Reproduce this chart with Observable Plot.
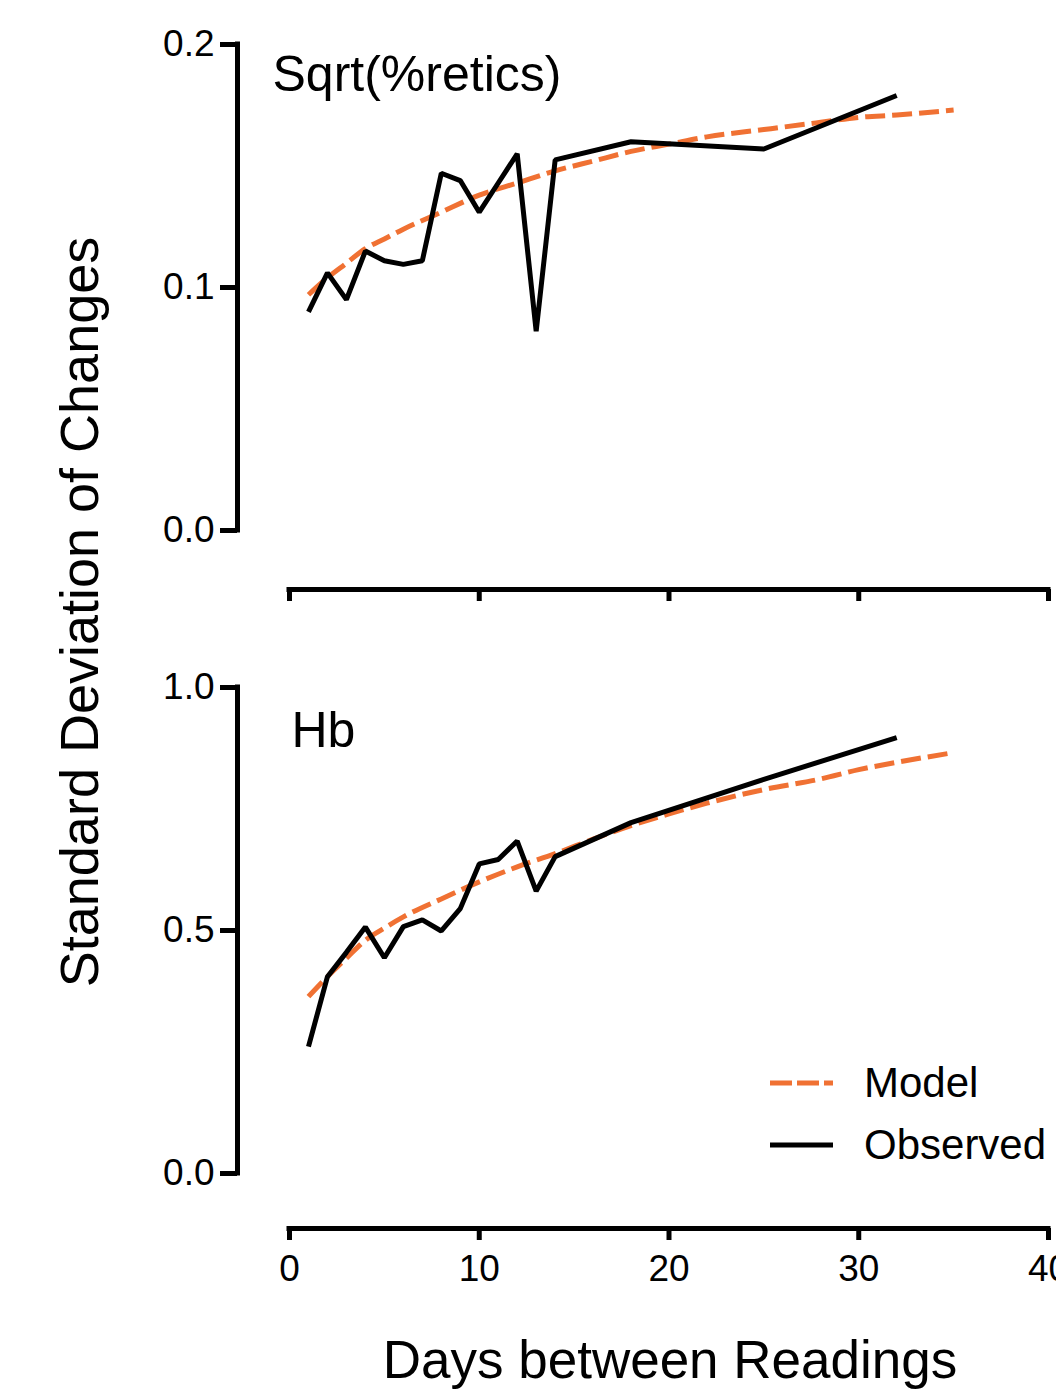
<!DOCTYPE html>
<html>
<head>
<meta charset="utf-8">
<script src="https://cdn.jsdelivr.net/npm/d3@7"></script>
<script src="https://cdn.jsdelivr.net/npm/@observablehq/plot@0.6"></script>
<style>
  html, body { margin: 0; padding: 0; background: #fff; overflow: hidden; }
  #wrap { position: relative; width: 1056px; height: 1389px; font-family: "Liberation Sans", Arial, Helvetica, sans-serif; color: #000; }
  #top, #bottom { position: absolute; left: 0; }
  #top { top: 0; }
  #bottom { top: 640px; }
  #ytitle { position: absolute; left: 79px; top: 612px; transform: translate(-50%, -50%) rotate(-90deg); font-size: 54px; line-height: 1; white-space: nowrap; }
  #xtitle { position: absolute; left: 670px; top: 1333px; transform: translateX(-50%); font-size: 53px; line-height: 1; white-space: nowrap; }
  .legtext { position: absolute; left: 864px; font-size: 42px; line-height: 1; white-space: nowrap; }
  #legsvg { position: absolute; left: 760px; top: 1060px; }
</style>
</head>
<body>
<div id="wrap">
  <div id="top"></div>
  <div id="bottom"></div>
  <div id="ytitle"></div>
  <div id="xtitle"></div>
  <svg id="legsvg" width="90" height="110"></svg>
  <div class="legtext" id="leg1" style="top:1062px"></div>
  <div class="legtext" id="leg2" style="top:1124px"></div>
</div>
<script>
// ---- data ----
const xDomain = [0, 40];
const xTicks = [0, 10, 20, 30, 40];

const observedDays = [1, 2, 3, 4, 5, 6, 7, 8, 9, 10, 11, 12, 13, 14, 18, 25, 32];
const modelDays = [1, 2, 3, 4, 5, 6, 8, 10, 12, 14, 16, 18, 20, 22, 25, 28, 30, 32, 35];

const reticsObserved = [0.090, 0.106, 0.095, 0.115, 0.111, 0.1095, 0.111, 0.147, 0.144, 0.131, 0.143, 0.155, 0.082, 0.1525, 0.160, 0.157, 0.179];
const reticsModel = [0.097, 0.104, 0.110, 0.116, 0.120, 0.124, 0.131, 0.138, 0.143, 0.148, 0.152, 0.156, 0.159, 0.162, 0.165, 0.168, 0.170, 0.171, 0.173];

const hbObserved = [0.261, 0.405, 0.455, 0.507, 0.444, 0.508, 0.522, 0.499, 0.545, 0.637, 0.646, 0.684, 0.581, 0.652, 0.722, 0.811, 0.897];
const hbModel = [0.364, 0.405, 0.443, 0.480, 0.505, 0.528, 0.565, 0.600, 0.631, 0.658, 0.688, 0.716, 0.740, 0.762, 0.790, 0.812, 0.831, 0.846, 0.866];

const reticsDomain = [0, 0.2];
const reticsTicks = [0, 0.1, 0.2];
const hbDomain = [0, 1.0];
const hbTicks = [0, 0.5, 1.0];

const reticsLabel = "Sqrt(%retics)";
const hbLabel = "Hb";
const yTitle = "Standard Deviation of Changes";
const xTitle = "Days between Readings";
const legendNames = ["Model", "Observed"];

// ---- style ----
const FONT = '"Liberation Sans", Arial, Helvetica, sans-serif';
const ORANGE = "#f07133";

function panel({height, marginTop, marginBottom, yDomain, yTicks, observed, model, label, labelDx, labelDy, axisDy, showXLabels}) {
  const obs = observedDays.map((d, i) => ({day: d, value: observed[i]}));
  const mod = modelDays.map((d, i) => ({day: d, value: model[i]}));
  return Plot.plot({
    width: 1056,
    height,
    marginTop,
    marginBottom,
    marginLeft: 289,
    marginRight: 8,
    style: {fontFamily: FONT, background: "white", color: "black", overflow: "visible"},
    x: {domain: xDomain},
    y: {domain: yDomain},
    marks: [
      Plot.ruleX([xDomain[0]], {y1: yDomain[0], y2: yDomain[1], dx: -52, stroke: "black", strokeWidth: 5, strokeLinecap: "square"}),
      Plot.axisY(yTicks, {anchor: "left", dx: -52, tickSize: 17, tickPadding: 6, strokeWidth: 5, fontSize: 37, tickFormat: d3.format(".1f"), label: null}),
      Plot.ruleY([yDomain[0]], {x1: xDomain[0], x2: xDomain[1], dy: axisDy, stroke: "black", strokeWidth: 5, strokeLinecap: "square"}),
      Plot.axisX(xTicks, {anchor: "bottom", dy: axisDy, tickSize: 12, tickPadding: 14, strokeWidth: 5, fontSize: 37, fill: showXLabels ? "black" : "none", label: null}),
      Plot.line(mod, {x: "day", y: "value", stroke: ORANGE, strokeWidth: 5, strokeDasharray: "20,7", strokeLinecap: "butt", curve: "monotone-x"}),
      Plot.line(obs, {x: "day", y: "value", stroke: "black", strokeWidth: 5, strokeLinejoin: "miter", strokeLinecap: "butt"}),
      Plot.text([label], {frameAnchor: "top-left", textAnchor: "start", lineAnchor: "middle", dx: labelDx, dy: labelDy, fontSize: 50, fill: "black"})
    ]
  });
}

document.getElementById("top").append(panel({
  height: 640, marginTop: 44, marginBottom: 110,
  yDomain: reticsDomain, yTicks: reticsTicks,
  observed: reticsObserved, model: reticsModel,
  label: reticsLabel, labelDx: -17, labelDy: 30,
  axisDy: 59, showXLabels: false
}));

document.getElementById("bottom").append(panel({
  height: 660, marginTop: 47, marginBottom: 127,
  yDomain: hbDomain, yTicks: hbTicks,
  observed: hbObserved, model: hbModel,
  label: hbLabel, labelDx: 2, labelDy: 43,
  axisDy: 55, showXLabels: true
}));

document.getElementById("ytitle").textContent = yTitle;
document.getElementById("xtitle").textContent = xTitle;
document.getElementById("leg1").textContent = legendNames[0];
document.getElementById("leg2").textContent = legendNames[1];

// legend swatches
const leg = d3.select("#legsvg");
leg.append("line").attr("x1", 10).attr("x2", 73).attr("y1", 23).attr("y2", 23)
  .attr("stroke", ORANGE).attr("stroke-width", 5).attr("stroke-dasharray", "22,5");
leg.append("line").attr("x1", 10).attr("x2", 73).attr("y1", 85).attr("y2", 85)
  .attr("stroke", "black").attr("stroke-width", 5);
</script>
</body>
</html>
